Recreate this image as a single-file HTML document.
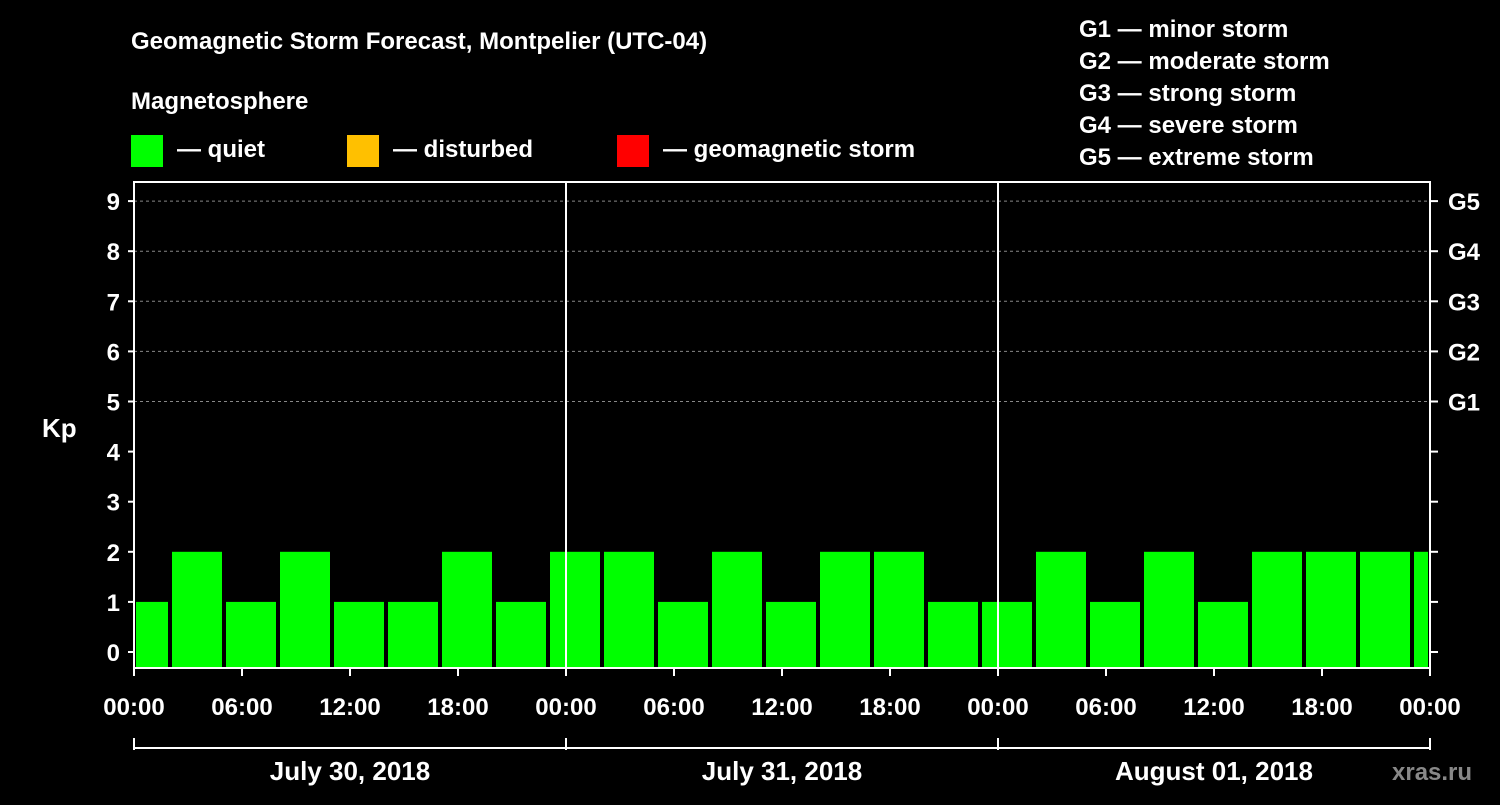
<!DOCTYPE html>
<html><head><meta charset="utf-8"><style>
body{margin:0;background:#000;width:1500px;height:800px;overflow:hidden}
svg text{font-family:"Liberation Sans",sans-serif;font-weight:bold;fill:#fff}
</style></head><body>
<svg id="c" width="1500" height="800" xmlns="http://www.w3.org/2000/svg">
<text x="131" y="49" font-size="24">Geomagnetic Storm Forecast, Montpelier (UTC-04)</text>
<text x="131" y="109" font-size="24">Magnetosphere</text>
<rect x="131" y="135" width="32" height="32" fill="#00ff00"/>
<text x="177" y="157" font-size="24">— quiet</text>
<rect x="347" y="135" width="32" height="32" fill="#ffc000"/>
<text x="393" y="157" font-size="24">— disturbed</text>
<rect x="617" y="135" width="32" height="32" fill="#ff0000"/>
<text x="663" y="157" font-size="24">— geomagnetic storm</text>
<g font-size="24">
<text x="1079" y="37">G1 — minor storm</text>
<text x="1079" y="69">G2 — moderate storm</text>
<text x="1079" y="101">G3 — strong storm</text>
<text x="1079" y="133">G4 — severe storm</text>
<text x="1079" y="165">G5 — extreme storm</text>
</g>
<text x="42" y="437" font-size="26">Kp</text>
<text x="1392" y="780" font-size="24" fill="#888" style="fill:#888">xras.ru</text>
<g id="plot"></g>
</svg>
<script>
const values=[1,2,1,2,1,1,2,1,2,2,1,2,1,2,2,1,1,2,1,2,1,2,2,2,2];
const yTicks=[0,1,2,3,4,5,6,7,8,9];
const gLabels=["G1","G2","G3","G4","G5"];
const xLabels=["00:00","06:00","12:00","18:00","00:00","06:00","12:00","18:00","00:00","06:00","12:00","18:00","00:00"];
const days=["July 30, 2018","July 31, 2018","August 01, 2018"];
const L=134,R=1430,T=182,B=668;
const y=v=>652-v*50.1;
const xh=h=>L+h*18; // hours since start
const ns="http://www.w3.org/2000/svg";
const g=document.getElementById('plot');
function mk(t,a,txt){const e=document.createElementNS(ns,t);for(const k in a)e.setAttribute(k,a[k]);if(txt!==undefined)e.textContent=txt;g.appendChild(e);return e;}
// grid
for(let v=5;v<=9;v++){const e=mk('line',{x1:L,x2:R,y1:y(v),y2:y(v),stroke:'#888','stroke-dasharray':'3,3'});

}
// bars
values.forEach((v,i)=>{let x0=xh(-1+3*i)+2,x1=xh(2+3*i)-2;x0=Math.max(x0,L+2);x1=Math.min(x1,R-2);
const r=mk('rect',{x:x0,y:y(v),width:x1-x0,height:B-y(v),fill:'#00ff00'});

});
// day separators
[24,48].forEach(h=>{const e=mk('line',{x1:xh(h),x2:xh(h),y1:T,y2:B,stroke:'#fff','stroke-width':2});

});
// frame
const f=mk('rect',{x:L,y:T,width:R-L,height:B-T,fill:'none',stroke:'#fff','stroke-width':2});


yTicks.forEach(v=>{mk('line',{x1:L-6,x2:L,y1:y(v),y2:y(v),stroke:'#fff','stroke-width':2});mk('line',{x1:R,x2:R+8,y1:y(v),y2:y(v),stroke:'#fff','stroke-width':2});
const t=mk('text',{x:L-14,y:y(v)+9,'font-size':24,'text-anchor':'end'},String(v));

});
gLabels.forEach((s,i)=>{const t=mk('text',{x:R+18,y:y(5+i)+9,'font-size':24},s);

});
xLabels.forEach((s,i)=>{const x=xh(6*i);mk('line',{x1:x,x2:x,y1:B,y2:B+8,stroke:'#fff','stroke-width':2});
const t=mk('text',{x:x,y:715,'font-size':24,'text-anchor':'middle'},s);

});
mk('line',{x1:L,x2:R,y1:748,y2:748,stroke:'#fff','stroke-width':2});
[0,24,48,72].forEach(h=>mk('line',{x1:xh(h),x2:xh(h),y1:738,y2:750,stroke:'#fff','stroke-width':2}));
days.forEach((s,i)=>{const t=mk('text',{x:xh(24*i+12),y:780,'font-size':26,'text-anchor':'middle'},s);

});
</script>
</body></html>
